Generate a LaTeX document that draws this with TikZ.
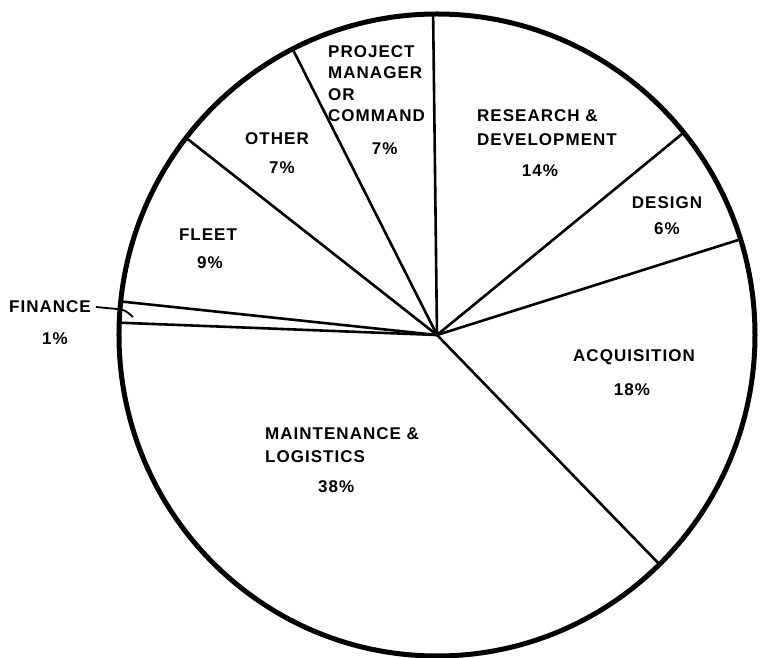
\documentclass[tikz,border=0pt]{standalone}
\usepackage{fontspec}
\newfontfamily\chartfont{Liberation Sans}[LetterSpace=6]
\usetikzlibrary{positioning}

\begin{document}
\begin{tikzpicture}[x=1pt, y=1pt, rim/.style={line width=5pt}, spoke/.style={line width=2.6pt}, leader/.style={line width=1.8pt}, slice/.style={inner sep=0pt, align=left, font=\chartfont\bfseries\fontsize{17}{23}\selectfont}, share/.style={inner sep=0pt, font=\chartfont\bfseries\fontsize{17}{23}\selectfont}]
	\useasboundingbox (-437,-323) rectangle (323,335);
	
	\coordinate (center) at (0,0);
	\coordinate (rim-top) at (90.7:318 and 321);
	\coordinate (rim-other) at (117:318 and 321);
	\coordinate (rim-fleet) at (142.1:318 and 321);
	\coordinate (rim-finance) at (174:318 and 321);
	\coordinate (rim-maint) at (177.8:318 and 321);
	\coordinate (rim-acq) at (314.4:318 and 321);
	\coordinate (rim-design) at (17.35:318 and 321);
	\coordinate (rim-rd) at (39.1:318 and 321);
	
	\foreach \r in {top,other,fleet,finance,maint,acq,design,rd}
		\draw[spoke] (center) -- (rim-\r);
	\draw[rim] (center) ellipse [x radius=318pt, y radius=321pt];
	
	\node[slice, anchor=north west, font=\chartfont\bfseries\fontsize{17}{21.5}\selectfont] (label-pm) at (-109,290) {PROJECT\\MANAGER\\OR\\COMMAND};
	\node[share, below=20.5pt of label-pm, xshift=8pt] (share-pm) {7\%};
	
	\node[slice] (label-other) at (-160,196) {OTHER};
	\node[share, below=16.5pt of label-other, xshift=5pt] (share-other) {7\%};
	
	\node[slice] (label-fleet) at (-229,100) {FLEET};
	\node[share, below=15pt of label-fleet, xshift=2pt] (share-fleet) {9\%};
	
	\node[slice] (label-finance) at (-387,28) {FINANCE};
	\node[share, below=19pt of label-finance, xshift=5pt] (share-finance) {1\%};
	\coordinate (finance-bend) at (-320,26);
	\coordinate (finance-hook) at (-304,18);
	\draw[leader] ([xshift=5pt]label-finance.east) -- (finance-bend) .. controls (-312,25) .. (finance-hook);
	
	\node[slice, anchor=north west, font=\chartfont\bfseries\fontsize{17}{24}\selectfont] (label-rd) at (40,226) {RESEARCH \&\\DEVELOPMENT};
	\node[share, below=19.5pt of label-rd, xshift=-7pt] (share-rd) {14\%};
	
	\node[slice] (label-design) at (230,132) {DESIGN};
	\node[share, below=13pt of label-design] (share-design) {6\%};
	
	\node[slice] (label-acq) at (197,-22) {ACQUISITION};
	\node[share, below=19pt of label-acq, xshift=-2pt] (share-acq) {18\%};
	
	\node[slice, anchor=north west] (label-maint) at (-172,-92) {MAINTENANCE \&\\LOGISTICS};
	\node[share, below=17.5pt of label-maint, xshift=-6pt] (share-maint) {38\%};
	
\end{tikzpicture}
\end{document}
